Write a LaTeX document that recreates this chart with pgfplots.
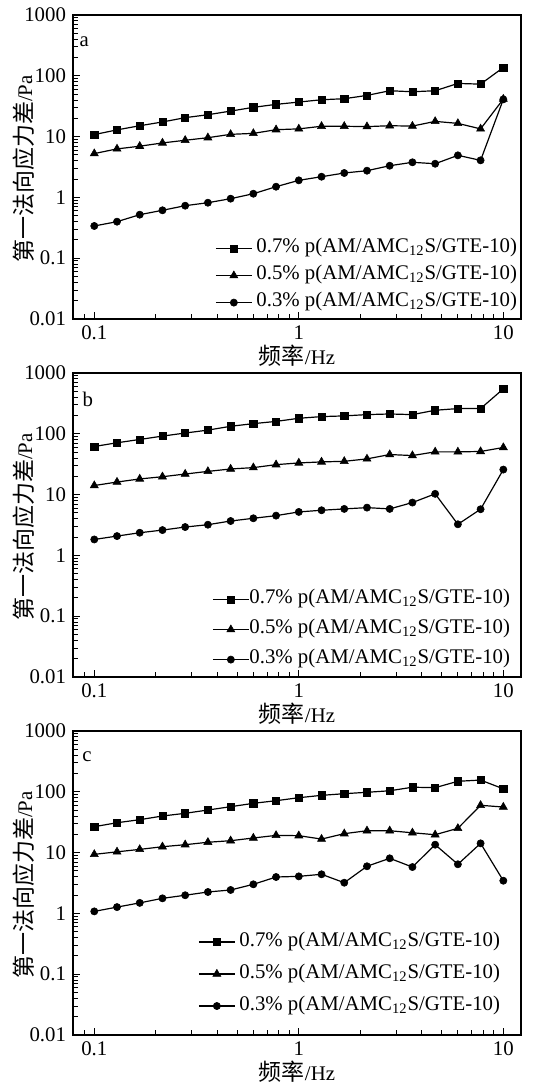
\documentclass[border=0pt]{standalone}
\usepackage{fontspec}
\setmainfont{Liberation Serif}
\newfontfamily\cjk{Noto Sans CJK SC}
\usepackage{pgfplots}
\usepackage{pgfplotstable}
\pgfplotsset{compat=1.18}

\pgfplotstableread{
x s t c
0.1 10.8 5.26 0.339
0.12915 12.9 6.28 0.399
0.16681 15.1 6.95 0.520
0.21544 17.4 7.87 0.614
0.27826 20.5 8.71 0.731
0.35938 22.9 9.6 0.818
0.46416 26.3 10.9 0.953
0.59948 30.3 11.3 1.15
0.77426 33.9 13.0 1.50
1 37.0 13.4 1.91
1.2915 40.4 14.8 2.19
1.6681 42.0 14.8 2.52
2.1544 47.6 14.6 2.75
2.7826 56.8 15.1 3.32
3.5938 54.7 14.9 3.78
4.6416 56.8 17.8 3.58
5.9948 74.9 16.5 4.92
7.7426 73.0 13.4 4.07
10 137 41.4 41.0
}\dataA

\pgfplotstableread{
x s t c
0.1 61.9 14.1 1.83
0.12915 71.2 16.1 2.08
0.16681 80.7 18.1 2.36
0.21544 91.7 19.7 2.61
0.27826 103 21.8 2.93
0.35938 115 24.1 3.20
0.46416 133 26.4 3.68
0.59948 147 27.8 4.08
0.77426 160 31.1 4.51
1 180 33.2 5.19
1.2915 192 34.5 5.53
1.6681 197 35.3 5.82
2.1544 207 38.7 6.11
2.7826 212 45.6 5.82
3.5938 207 43.9 7.40
4.6416 244 50.5 10.3
5.9948 260 50.5 3.25
7.7426 260 51.2 5.75
10 549 59.6 25.8
}\dataB

\pgfplotstableread{
x s t c
0.1 26.7 9.36 1.08
0.12915 31.0 10.3 1.27
0.16681 34.8 11.3 1.49
0.21544 40.0 12.5 1.77
0.27826 44.3 13.5 1.99
0.35938 50.2 14.8 2.25
0.46416 56.9 15.7 2.43
0.59948 64.7 17.4 3.01
0.77426 71.4 19.2 3.97
1 80.0 19.0 4.07
1.2915 87.5 16.7 4.40
1.6681 93.1 20.5 3.20
2.1544 98.2 22.9 5.96
2.7826 104 22.9 8.06
3.5938 119 21.2 5.79
4.6416 117 19.7 13.5
5.9948 149 25.1 6.43
7.7426 156 60.0 14.2
10 112 56.2 3.45
}\dataC

\pgfplotsset{
  legend image code/.code={\draw[mark repeat=2,mark phase=2,#1] plot coordinates {(0pt,0pt)(9pt,0pt)(18pt,0pt)};},
}

\newcommand{\lab}[1]{#1\% p(AM/AMC\textsubscript{12}S/GTE-10)}
\newcommand{\labg}[1]{\hspace{2pt}#1\% p(AM/AMC\textsubscript{12}S/GTE-10)}

\begin{document}
\begin{tikzpicture}[font=\fontsize{10.4}{12}\selectfont]
% panel a
\begin{axis}[at={(36.5pt,-159.5pt)}, anchor=south west,
    xmode=log, ymode=log, scale only axis, width=224pt, height=152pt,
    xmin=0.0787, xmax=12.2, ymin=0.01, ymax=1000,
    xtick={0.1,1,10}, xticklabels={0.1,1,10},
    minor xtick={0.09,0.2,0.3,0.4,0.5,0.6,0.7,0.8,0.9,2,3,4,5,6,7,8,9},
    ytick={0.01,0.1,1,10,100,1000}, yticklabels={0.01,0.1,1,10,100,1000},
    minor ytick={0.02,0.03,0.04,0.05,0.06,0.07,0.08,0.09,0.2,0.3,0.4,0.5,0.6,0.7,0.8,0.9,2,3,4,5,6,7,8,9,20,30,40,50,60,70,80,90,200,300,400,500,600,700,800,900},
    tick align=inside, xtick pos=bottom, ytick pos=left,
    major tick length=3.5pt, minor tick length=2.5pt,
    axis line style={line width=0.8pt},
    tick style={black, line width=0.5pt},
    xlabel={{\cjk\fontsize{11.5}{12}\selectfont 频率}/Hz},
    ylabel={{\cjk\fontsize{11.5}{12}\selectfont 第一法向应力差}/Pa},
    xlabel style={at={(rel axis cs:0.5,0)}, anchor=center, yshift=-18.5pt},
    ylabel style={at={(rel axis cs:0,0.5)}, anchor=center, yshift=24.75pt, xshift=-1pt},
    legend cell align=left,
    legend style={draw=none, fill=none, inner sep=0pt, outer sep=0pt,
      nodes={inner sep=0pt, text height=7pt, text depth=3pt},
      at={(1,0)}, anchor=south east, xshift=-2pt, yshift=3.2pt, row sep=3.5pt}]
\addplot[black, line width=0.6pt, mark=square*, mark size=1.8pt, mark options={solid, fill=black, line width=0.3pt}] table[x=x,y=s] {\dataA};
\addplot[black, line width=0.6pt, mark=triangle*, mark size=2.3pt, mark options={solid, fill=black, line width=0.3pt}] table[x=x,y=t] {\dataA};
\addplot[black, line width=0.6pt, mark=*, mark size=1.8pt, mark options={solid, fill=black, line width=0.3pt}] table[x=x,y=c] {\dataA};
\legend{\labg{0.7},\labg{0.5},\labg{0.3}}
\node at (rel axis cs:0.025,0.911) {a};
\end{axis}
% panel b
\begin{axis}[at={(36.5pt,-338.5pt)}, anchor=south west,
    xmode=log, ymode=log, scale only axis, width=224pt, height=152pt,
    xmin=0.0787, xmax=12.2, ymin=0.01, ymax=1000,
    xtick={0.1,1,10}, xticklabels={0.1,1,10},
    minor xtick={0.09,0.2,0.3,0.4,0.5,0.6,0.7,0.8,0.9,2,3,4,5,6,7,8,9},
    ytick={0.01,0.1,1,10,100,1000}, yticklabels={0.01,0.1,1,10,100,1000},
    minor ytick={0.02,0.03,0.04,0.05,0.06,0.07,0.08,0.09,0.2,0.3,0.4,0.5,0.6,0.7,0.8,0.9,2,3,4,5,6,7,8,9,20,30,40,50,60,70,80,90,200,300,400,500,600,700,800,900},
    tick align=inside, xtick pos=bottom, ytick pos=left,
    major tick length=3.5pt, minor tick length=2.5pt,
    axis line style={line width=0.8pt},
    tick style={black, line width=0.5pt},
    xlabel={{\cjk\fontsize{11.5}{12}\selectfont 频率}/Hz},
    ylabel={{\cjk\fontsize{11.5}{12}\selectfont 第一法向应力差}/Pa},
    xlabel style={at={(rel axis cs:0.5,0)}, anchor=center, yshift=-18.5pt},
    ylabel style={at={(rel axis cs:0,0.5)}, anchor=center, yshift=24.75pt, xshift=-1pt},
    legend cell align=left,
    legend style={draw=none, fill=none, inner sep=0pt, outer sep=0pt,
      nodes={inner sep=0pt, text height=7pt, text depth=3pt},
      at={(1,0)}, anchor=south east, xshift=-5.5pt, yshift=3.7pt, row sep=5pt}]
\addplot[black, line width=0.6pt, mark=square*, mark size=1.8pt, mark options={solid, fill=black, line width=0.3pt}] table[x=x,y=s] {\dataB};
\addplot[black, line width=0.6pt, mark=triangle*, mark size=2.3pt, mark options={solid, fill=black, line width=0.3pt}] table[x=x,y=t] {\dataB};
\addplot[black, line width=0.6pt, mark=*, mark size=1.8pt, mark options={solid, fill=black, line width=0.3pt}] table[x=x,y=c] {\dataB};
\legend{\lab{0.7},\lab{0.5},\lab{0.3}}
\node at (rel axis cs:0.033,0.914) {b};
\end{axis}
% panel c
\begin{axis}[at={(36.5pt,-517.5pt)}, anchor=south west,
    xmode=log, ymode=log, scale only axis, width=224pt, height=152pt,
    xmin=0.0787, xmax=12.2, ymin=0.01, ymax=1000,
    xtick={0.1,1,10}, xticklabels={0.1,1,10},
    minor xtick={0.09,0.2,0.3,0.4,0.5,0.6,0.7,0.8,0.9,2,3,4,5,6,7,8,9},
    ytick={0.01,0.1,1,10,100,1000}, yticklabels={0.01,0.1,1,10,100,1000},
    minor ytick={0.02,0.03,0.04,0.05,0.06,0.07,0.08,0.09,0.2,0.3,0.4,0.5,0.6,0.7,0.8,0.9,2,3,4,5,6,7,8,9,20,30,40,50,60,70,80,90,200,300,400,500,600,700,800,900},
    tick align=inside, xtick pos=bottom, ytick pos=left,
    major tick length=3.5pt, minor tick length=2.5pt,
    axis line style={line width=0.8pt},
    tick style={black, line width=0.5pt},
    xlabel={{\cjk\fontsize{11.5}{12}\selectfont 频率}/Hz},
    ylabel={{\cjk\fontsize{11.5}{12}\selectfont 第一法向应力差}/Pa},
    xlabel style={at={(rel axis cs:0.5,0)}, anchor=center, yshift=-18.5pt},
    ylabel style={at={(rel axis cs:0,0.5)}, anchor=center, yshift=24.75pt, xshift=-1pt},
    legend cell align=left,
    legend style={draw=none, fill=none, inner sep=0pt, outer sep=0pt,
      nodes={inner sep=0pt, text height=7pt, text depth=3pt},
      at={(1,0)}, anchor=south east, xshift=-10.5pt, yshift=9.5pt, row sep=6pt}]
\addplot[black, line width=0.6pt, mark=square*, mark size=1.8pt, mark options={solid, fill=black, line width=0.3pt}] table[x=x,y=s] {\dataC};
\addplot[black, line width=0.6pt, mark=triangle*, mark size=2.3pt, mark options={solid, fill=black, line width=0.3pt}] table[x=x,y=t] {\dataC};
\addplot[black, line width=0.6pt, mark=*, mark size=1.8pt, mark options={solid, fill=black, line width=0.3pt}] table[x=x,y=c] {\dataC};
\legend{\labg{0.7},\labg{0.5},\labg{0.3}}
\node at (rel axis cs:0.031,0.914) {c};
\end{axis}
\pgfresetboundingbox
\useasboundingbox (0,0) rectangle (266pt,-542pt);
\end{tikzpicture}
\end{document}
